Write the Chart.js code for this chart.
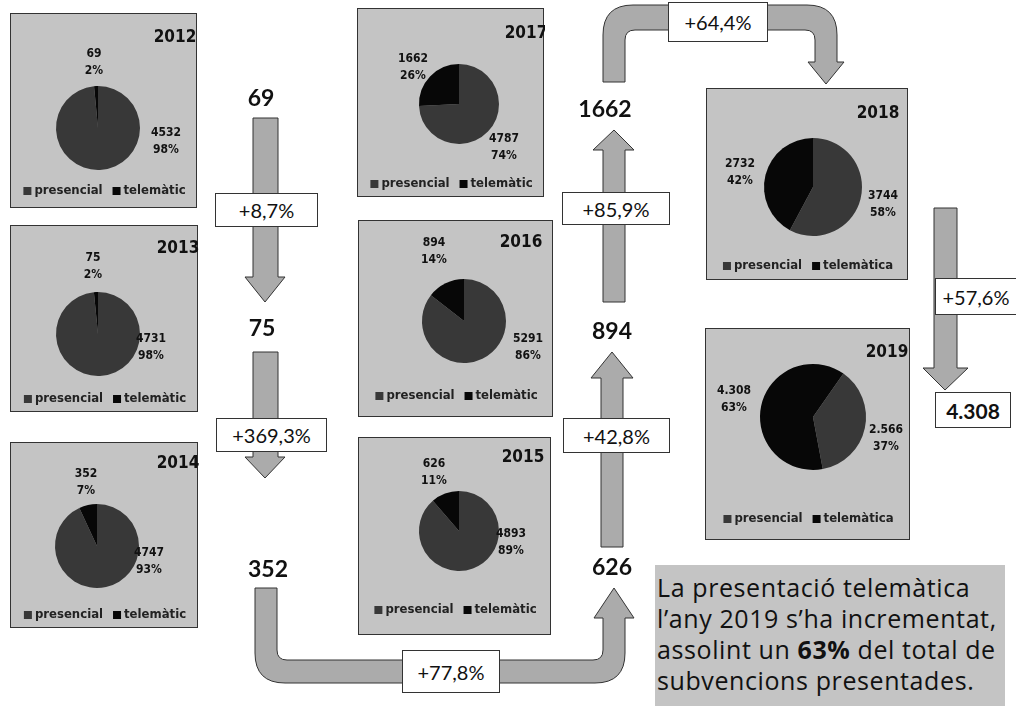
<!DOCTYPE html>
<html>
<head>
<meta charset="utf-8">
<script src="https://cdn.jsdelivr.net/npm/chart.js@4/dist/chart.umd.min.js"></script>
<style>
  body { margin: 0; background: #fff; }
  #wrap { position: relative; width: 1016px; height: 706px; overflow: hidden; background: #fff; font-family: Lato, "Open Sans", sans-serif; }
  .panel { position: absolute; background: #c4c4c4; border: 1px solid #333; box-sizing: border-box; }
  .panel canvas { position: absolute; left: 0; top: 0; }
  svg { position: absolute; left: 0; top: 0; }
  .num { position: absolute; font: bold 23px Lato, sans-serif; color: #111; transform: translate(-50%, -50%); white-space: nowrap; }
  .box { position: absolute; background: #fff; border: 1px solid #333; box-sizing: border-box; font: 20px Lato, sans-serif; color: #111; display: flex; align-items: center; justify-content: center; white-space: nowrap; }
  #note { position: absolute; left: 655px; top: 565px; width: 350px; height: 141px; background: #c4c4c4; font: 25px "Open Sans", sans-serif; line-height: 31px; color: #111; padding: 7px 0 0 2px; box-sizing: border-box; white-space: nowrap; letter-spacing: 0.6px; }
</style>
</head>
<body>
<div id="wrap"></div>
<script>
// data
const years = ['2012', '2013', '2014', '2015', '2016', '2017', '2018', '2019'];
const presencial = [4532, 4731, 4747, 4893, 5291, 4787, 3744, 2566];
const telematic = [69, 75, 352, 626, 894, 1662, 2732, 4308];
const presencialPct = ['98%', '98%', '93%', '89%', '86%', '74%', '58%', '37%'];
const telematicPct = ['2%', '2%', '7%', '11%', '14%', '26%', '42%', '63%'];
const presencialText = ['4532', '4731', '4747', '4893', '5291', '4787', '3744', '2.566'];
const telematicText = ['69', '75', '352', '626', '894', '1662', '2732', '4.308'];
const seriesNames = ['presencial', 'telemàtic'];
const seriesNames2 = ['presencial', 'telemàtica'];
const growth = ['+8,7%', '+369,3%', '+77,8%', '+42,8%', '+85,9%', '+64,4%', '+57,6%'];

// layout of each panel (page coordinates)
const panels = [
  { x: 10, y: 13, w: 187, h: 195, cx: 97, cy: 127, r: 42, rot: 0, tx: 174, ty: 37, tl: [93, 53], pl: [165, 132], ly: 190 },
  { x: 10, y: 225, w: 188, h: 187, cx: 97, cy: 333, r: 42, rot: 0, tx: 177, ty: 248, tl: [92, 257], pl: [150, 338], ly: 398 },
  { x: 10, y: 442, w: 188, h: 186, cx: 96, cy: 545, r: 42, rot: 0, tx: 177, ty: 463, tl: [85, 473], pl: [148, 552], ly: 614 },
  { x: 358, y: 437, w: 193, h: 198, cx: 458, cy: 530, r: 40, rot: 0, tx: 522, ty: 457, tl: [433, 463], pl: [510, 533], ly: 609 },
  { x: 358, y: 220, w: 195, h: 197, cx: 463, cy: 320, r: 42, rot: 0, tx: 520, ty: 242, tl: [433, 242], pl: [527, 338], ly: 395 },
  { x: 357, y: 8, w: 187, h: 189, cx: 458, cy: 103, r: 40, rot: 0, tx: 525, ty: 33, tl: [412, 58], pl: [503, 138], ly: 183 },
  { x: 706, y: 88, w: 202, h: 192, cx: 812, cy: 186, r: 49, rot: 0, tx: 877, ty: 113, tl: [739, 163], pl: [882, 195], ly: 265 },
  { x: 705, y: 328, w: 205, h: 212, cx: 812, cy: 416, r: 53, rot: 35, tx: 886, ty: 352, tl: [733, 390], pl: [885, 429], ly: 518 }
];

const presColor = '#383838';
const teleColor = '#070707';
const wrap = document.getElementById('wrap');

const panelText = {
  id: 'panelText',
  afterDraw(chart, args, o) {
    const ctx = chart.ctx;
    ctx.save();
    ctx.fillStyle = '#111';
    ctx.textAlign = 'center';
    ctx.textBaseline = 'middle';
    ctx.font = 'bold 17px "DejaVu Sans Condensed", "DejaVu Sans", sans-serif';
    ctx.fillText(o.title, o.tx, o.ty);
    ctx.font = 'bold 12px "DejaVu Sans Condensed", "DejaVu Sans", sans-serif';
    o.labels.forEach(l => {
      ctx.fillText(l.lines[0], l.x, l.y);
      ctx.fillText(l.lines[1], l.x, l.y + 17);
    });
    // legend
    const names = chart.data.labels;
    const colors = chart.data.datasets[0].backgroundColor;
    ctx.font = 'bold 13px "DejaVu Sans Condensed", "DejaVu Sans", sans-serif';
    const widths = names.map(n => ctx.measureText(n).width + 11);
    const total = widths.reduce((a, b) => a + b, 0) + 10;
    let x = chart.width / 2 - total / 2;
    ctx.textAlign = 'left';
    names.forEach((n, i) => {
      ctx.fillStyle = colors[i];
      ctx.fillRect(x, o.ly - 4, 8, 8);
      ctx.fillStyle = '#222';
      ctx.fillText(n, x + 11, o.ly);
      x += widths[i] + 10;
    });
    ctx.restore();
  }
};

years.forEach((yr, i) => {
  const p = panels[i];
  const div = document.createElement('div');
  div.className = 'panel';
  div.style.left = p.x + 'px';
  div.style.top = p.y + 'px';
  div.style.width = p.w + 'px';
  div.style.height = p.h + 'px';
  const cv = document.createElement('canvas');
  cv.width = p.w;
  cv.height = p.h;
  div.appendChild(cv);
  wrap.appendChild(div);

  const cx = p.cx - p.x, cy = p.cy - p.y;
  const dx = 2 * cx - p.w, dy = 2 * cy - p.h;
  const names = i >= 6 ? seriesNames2 : seriesNames;

  new Chart(cv.getContext('2d'), {
    type: 'pie',
    data: {
      labels: names,
      datasets: [{
        data: [presencial[i], telematic[i]],
        backgroundColor: [presColor, teleColor],
        borderWidth: 0
      }]
    },
    options: {
      responsive: false,
      animation: false,
      devicePixelRatio: 1,
      events: [],
      rotation: p.rot,
      radius: p.r,
      layout: {
        padding: {
          left: Math.max(dx, 0), right: Math.max(-dx, 0),
          top: Math.max(dy, 0), bottom: Math.max(-dy, 0)
        }
      },
      plugins: {
        legend: { display: false },
        tooltip: { enabled: false },
        panelText: {
          title: yr,
          tx: p.tx - p.x, ty: p.ty - p.y, ly: p.ly - p.y,
          labels: [
            { x: p.tl[0] - p.x, y: p.tl[1] - p.y, lines: [telematicText[i], telematicPct[i]] },
            { x: p.pl[0] - p.x, y: p.pl[1] - p.y, lines: [presencialText[i], presencialPct[i]] }
          ]
        }
      }
    },
    plugins: [panelText]
  });
});

// arrows
const svgNS = 'http://www.w3.org/2000/svg';
const svg = document.createElementNS(svgNS, 'svg');
svg.setAttribute('width', 1016);
svg.setAttribute('height', 706);
const arrowPaths = [
  'M253,118 L278,118 L278,277 L285,277 L265,302 L245,277 L253,277 Z',
  'M253,352 L278,352 L278,457 L285,457 L265,478 L245,457 L253,457 Z',
  'M255,588 L255,653 Q255,683 285,683 L595,683 Q625,683 625,653 L625,618 L634,618 L614,588 L594,618 L603,618 L603,650 Q603,660 593,660 L287,660 Q277,660 277,650 L277,588 Z',
  'M601,547 L623,547 L623,378 L633,378 L612,352 L591,378 L601,378 Z',
  'M603,302 L625,302 L625,150 L634,150 L614,130 L593,150 L603,150 Z',
  'M603,82 L603,35 Q603,5 633,5 L807,5 Q837,5 837,35 L837,62 L844,62 L826,84 L808,62 L815,62 L815,40 Q815,30 805,30 L635,30 Q625,30 625,40 L625,82 Z',
  'M934,208 L957,208 L957,368 L968,368 L945,390 L923,368 L934,368 Z'
];
arrowPaths.forEach(d => {
  const path = document.createElementNS(svgNS, 'path');
  path.setAttribute('d', d);
  path.setAttribute('fill', '#ababab');
  path.setAttribute('stroke', '#333');
  path.setAttribute('stroke-width', '1');
  svg.appendChild(path);
});
wrap.appendChild(svg);

// flow numbers
const numPos = [[261, 97], [262, 327], [268, 568], [612, 566], [612, 330], [605, 108]];
numPos.forEach((pos, i) => {
  const d = document.createElement('div');
  d.className = 'num';
  d.style.left = pos[0] + 'px';
  d.style.top = pos[1] + 'px';
  d.textContent = telematicText[i];
  wrap.appendChild(d);
});

// growth boxes
const boxPos = [[215, 193, 103, 34], [216, 418, 111, 34], [402, 650, 98, 43], [563, 418, 107, 35], [562, 192, 108, 33], [668, 2, 100, 40], [935, 278, 82, 37]];
boxPos.forEach((b, i) => {
  const d = document.createElement('div');
  d.className = 'box';
  d.style.left = b[0] + 'px';
  d.style.top = b[1] + 'px';
  d.style.width = b[2] + 'px';
  d.style.height = b[3] + 'px';
  d.textContent = growth[i];
  wrap.appendChild(d);
});
const last = document.createElement('div');
last.className = 'box';
last.style.cssText = 'left:935px;top:392px;width:76px;height:36px;font-weight:bold;font-size:21px;';
last.textContent = telematicText[7];
wrap.appendChild(last);

const note = document.createElement('div');
note.id = 'note';
note.innerHTML = 'La presentació telemàtica<br>l’any 2019 s’ha incrementat,<br>assolint un <b>' + telematicPct[7] + '</b> del total de<br>subvencions presentades.';
wrap.appendChild(note);
</script>
</body>
</html>
